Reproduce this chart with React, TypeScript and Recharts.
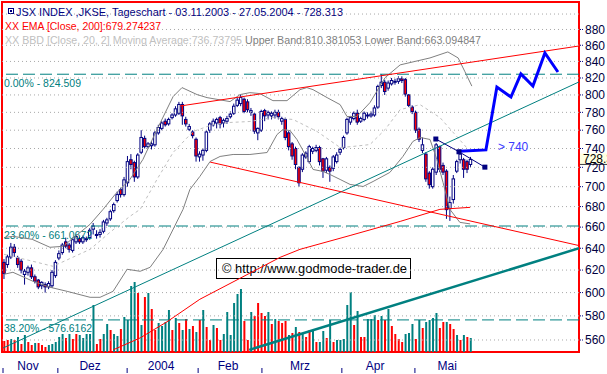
import React from 'react';
import {
  ComposedChart, XAxis, YAxis, Bar, Line, ReferenceLine, ReferenceArea, ReferenceDot, Cell, Customized,
} from 'recharts';

const FONT = '"Liberation Sans", Arial, sans-serif';

// ---- daily candles (03.11.2003 - 27.05.2004), trading-day index k ----
const opens = [
  627, 625, 632, 641, 631, 628, 616, 618, 622, 614,
  611, 606, 607, 605, 606, 615, 631, 636, 646, 643,
  638, 646, 649, 646, 648, 650, 658, 652, 653, 656,
  664, 668, 676, 686, 697, 692, 704, 728, 725, 710,
  736, 751, 742, 743, 744, 757, 762, 770, 767, 774,
  777, 779, 789, 772, 761, 758, 750, 731, 733, 738,
  760, 766, 768, 774, 768, 770, 775, 779, 788, 790,
  795, 792, 780, 778, 757, 760, 782, 777, 776, 777,
  780, 770, 772, 757, 745, 740, 720, 718, 731, 726,
  737, 738, 741, 729, 717, 720, 719, 726, 736, 741,
  757, 769, 773, 779, 770, 772, 776, 776, 777, 786,
  811, 815, 808, 813, 815, 816, 819, 818, 800, 786,
  780, 761, 738, 734, 714, 700, 715, 742, 722, 716,
  678, 687, 716, 728, 728, 726, 723,
];
const highs = [
  630, 634, 645, 644, 633, 630, 621, 624, 625, 616,
  612, 610, 609, 610, 620, 629, 638, 645, 650, 645,
  650, 653, 651, 652, 651, 659, 664, 657, 658, 667,
  669, 677, 684, 695, 699, 710, 732, 734, 727, 735,
  760, 754, 747, 748, 759, 766, 770, 773, 774, 779,
  787, 792, 792, 775, 767, 760, 752, 737, 740, 760,
  769, 773, 774, 776, 773, 776, 781, 790, 797, 800,
  797, 795, 785, 779, 763, 783, 784, 782, 781, 783,
  783, 775, 774, 759, 747, 742, 721, 735, 737, 744,
  742, 744, 743, 730, 731, 722, 733, 736, 741, 754,
  774, 776, 781, 783, 775, 781, 780, 781, 788, 812,
  824.5, 818, 817, 820, 819, 822, 822, 820, 801, 788,
  782, 763, 752, 736, 716, 720, 746, 743, 725, 718,
  690, 712, 728, 737, 730, 728, 731,
];
const lows = [
  612, 622, 630, 632, 622, 617, 607, 615, 612, 608,
  603, 603, 600, 603, 604, 613, 629, 634, 640, 636,
  636, 644, 644, 644, 646, 648, 653, 649, 650, 654,
  661, 666, 674, 684, 689, 690, 700, 718, 705, 708,
  734, 740, 740, 739, 742, 755, 760, 764, 765, 772,
  775, 777, 766, 764, 759, 751, 726, 726, 727, 736,
  757, 764, 762, 762, 763, 767, 773, 777, 786, 787,
  779, 780, 776, 756, 749, 758, 770, 772, 772, 773,
  772, 766, 749, 738, 728, 718, 700, 715, 729, 724,
  734, 736, 722, 709, 714, 705, 716, 724, 733, 739,
  755, 766, 771, 766, 768, 770, 773, 774, 775, 784,
  808, 800, 805, 811, 812, 813, 814, 798, 786, 778,
  757, 747, 735, 705, 698, 698, 712, 715, 712, 668,
  666, 683, 714, 724, 709, 714, 720,
];
const closes = [
  617, 632, 641, 636, 625, 620, 619, 622, 614, 610,
  605, 609, 605, 608, 618, 627, 635, 643, 642, 639,
  648, 651, 646, 650, 649, 657, 661, 653, 655, 665,
  667, 675, 682, 692, 692, 707, 726, 723, 710, 733,
  752, 742, 745, 745, 757, 763, 768, 766, 772, 777,
  784, 789, 776, 767, 764, 754, 732, 734, 738, 758,
  767, 770, 772, 767, 771, 773, 778, 787, 794, 797,
  781, 783, 782, 759, 762, 781, 776, 780, 779, 780,
  775, 773, 752, 742, 732, 723, 704, 733, 735, 742,
  740, 741, 726, 716, 729, 716, 731, 733, 739, 752,
  772, 774, 779, 769, 773, 779, 777, 778, 785, 810,
  815, 804, 814, 817, 816, 819, 817, 801, 788, 781,
  760, 750, 744, 708, 702, 718, 744, 718, 715, 677,
  684, 708, 726, 734, 718, 718, 728.313,
];
const volumes = [
  11, 12, 13, 12, 15, 8, 17, 10, 7, 9,
  9, 7, 5, 7, 8, 10, 15, 18, 14, 18,
  13, 18, 17, 14, 18, 18, 47, 8, 13, 18,
  28, 22, 18, 16, 23, 35, 32, 66, 70, 59,
  27, 55, 59, 43, 22, 29, 26, 30, 42, 22,
  34, 29, 22, 33, 23, 26, 20, 32, 42, 25,
  12, 27, 24, 12, 18, 40, 17, 49, 58, 63,
  31, 12, 40, 36, 49, 39, 36, 40, 28, 33,
  31, 29, 31, 17, 19, 25, 20, 19, 15, 22,
  21, 10, 10, 21, 14, 32, 10, 12, 12, 13,
  47, 60, 27, 41, 15, 15, 33, 33, 37, 32,
  36, 32, 43, 26, 18, 13, 10, 18, 19, 28,
  13, 32, 24, 30, 32, 34, 39, 24, 30, 30,
  28, 23, 17, 12, 17, 15, 14,
];
const volDir = (
  'ddudududdu' + 'ddduuuuudu' + 'dduuuuuddu' + 'uduuduuuud' + 'ududduuuud' +
  'ududududud' + 'dudduuuuuu' + 'dduddddudu' + 'dddudududd' + 'uduududuuu' +
  'uududduuud' + 'ududddduuu' + 'duduuuuddu' + 'ddududu'
).split('');

// ---- indicators ----
const emaK = [31.8, 39.7, 47.5, 57.1, 68.8, 80.5, 86.3, 100.9, 115.5, 127.1, 135.9];
const emaV = [552, 561.7, 575, 594.2, 612.6, 631.6, 639, 652, 665.5, 677.3, 679.27];

const bbUpperK = [0, 2.6, 8.2, 13.4, 17.2, 25.1, 28.9, 32.4, 36.7, 40.5, 44.6, 49.3, 51.9, 56.3, 59.2, 65.9, 68.8, 71.7, 74.6, 78.4, 82.5, 86.3, 88.3, 90.1, 94.2, 98.0, 100.0, 102.9, 106.7, 111.1, 115.5, 124.2, 129.4, 132.4, 134.4, 136.4];
const bbUpperV = [650, 651.2, 648.4, 640.9, 641.8, 662.7, 677.3, 692.2, 707.4, 728.3, 760.7, 798.1, 808.6, 800.4, 796.9, 792.3, 800.4, 802.7, 801.6, 793.4, 793.4, 806.2, 808.6, 806.2, 796.9, 788.8, 775.3, 775.3, 791.1, 820.4, 835.8, 844.3, 851.7, 844.3, 827.4, 810.38];

const bbLowerK = [0, 2.6, 8.5, 13.4, 18.4, 25.1, 28.0, 31.8, 35.9, 39.7, 42.6, 46.4, 52.2, 54.2, 57.1, 60.1, 63.0, 66.8, 71.7, 76.7, 79.6, 81.3, 83.4, 85.4, 88.3, 90.1, 93.0, 95.0, 98.0, 100.9, 104.7, 107.6, 112.5, 116.3, 119.2, 121.3, 124.2, 126.2, 128.0, 130.0, 132.9, 135.9];
const bbLowerV = [616.2, 618.0, 609.9, 604.7, 601.1, 595.9, 595.9, 601.1, 620.7, 618.9, 622.5, 639.0, 677.3, 697.2, 710.5, 726.2, 731.5, 733.6, 733.6, 735.7, 755.2, 760.7, 759.6, 749.8, 730.4, 717.8, 715.7, 712.6, 707.4, 702.3, 700.2, 705.3, 714.7, 731.5, 747.6, 752.0, 749.8, 728.3, 704.3, 677.3, 664.6, 663.09];

const bbMidK = [0, 8.5, 14.3, 25.1, 30.9, 36.7, 39.7, 44.6, 49.3, 55.1, 60.9, 65.9, 71.7, 78.4, 84.3, 91.3, 98.0, 101.7, 106.7, 111.1, 115.5, 121.3, 127.1, 131.5, 135.9];
const bbMidV = [634.4, 627.9, 623.4, 639.0, 655.0, 670.4, 677.3, 707.4, 735.7, 758.5, 766.3, 768.6, 769.7, 774.1, 771.9, 758.5, 741.1, 742.2, 744.3, 760.7, 783.1, 788.8, 774.1, 755.2, 736.74];

// ---- trend lines & projection ----
const redUpperK = [51.3, 167.64];
const redUpperV = [787.2, 859.1];
const redLowerK = [60.1, 167.64];
const redLowerV = [725.5, 642.5];
const tealThinK = [-0.29, 167.64];
const tealThinV = [553.5, 815.3];
const tealThickK = [71.5, 167.64];
const tealThickV = [552, 640];
const projK = [132.65, 140.5, 143.7, 147.8, 150.7, 154.2, 157.7, 161.5];
const projV = [737, 738.5, 809.3, 797.6, 824.8, 810.5, 850.4, 827.2];
const markerK = [125.9, 132.65, 140.2];
const markerV = [750.3, 736.5, 720.2];

const fibLevels = [824.509, 661.0672, 576.6162];
const fibLabels = ['0.00% - 824.509', '23.60% - 661.0672', '38.20% - 576.6162'];
const yTicks = [560, 580, 600, 620, 640, 660, 680, 700, 720, 740, 760, 780, 800, 820, 840, 860, 880];
const gridLevels = [560, 580, 600, 620, 640, 660, 680, 700, 720, 740, 760, 780, 800, 820, 840, 860, 880, 900];
const monthStarts = [-0.29, 15.7, 35.9, 56.6, 75.2, 98.5, 119.8];
const monthLabelPos = [7, 25.1, 45.8, 65.3, 86.3, 108.2, 129.2];
const monthLabels = ['Nov', 'Dez', '2004', 'Feb', 'Mrz', 'Apr', 'Mai'];
const targetLabel = '> 740';
const targetK = 144;
const targetV = 740;
const lastClose = 728.313;

const X_DOMAIN: [number, number] = [-0.583, 167.64];
const Y_DOMAIN: [number, number] = [550.3, 915.9];

const rows = opens.map((o, k) => ({
  k, o, h: highs[k], l: lows[k], c: closes[k], vol: volumes[k], up: volDir[k] === 'u',
}));
const pair = (ks: number[], vs: number[]) => ks.map((k, i) => ({ k, v: vs[i] }));

const NAVY = '#000080';
const TEAL = '#008080';

const Candle = (props: any) => {
  const { x, y, width, height, payload } = props;
  if (!payload || !isFinite(y)) return null;
  const { o, h, l, c } = payload;
  const cx = x + width / 2;
  const lh = Math.log(h);
  const ll = Math.log(l);
  const span = lh - ll || 1;
  const toY = (v: number) => y + ((lh - Math.log(v)) / span) * height;
  const top = toY(Math.max(o, c));
  const bot = toY(Math.min(o, c));
  const down = c < o;
  return (
    <g>
      <line x1={cx} x2={cx} y1={y} y2={y + height} stroke={NAVY} strokeWidth={1} />
      <rect x={cx - 1.25} y={top} width={2.5} height={Math.max(bot - top, 1)}
        fill={down ? '#ff0000' : '#ffffff'} stroke={NAVY} strokeWidth={1} />
    </g>
  );
};

const fibWidths = [77, 88, 88];
const FibLabel = (props: any) => {
  const { viewBox, idx } = props;
  if (!viewBox) return null;
  return (
    <text x={viewBox.x + 2} y={viewBox.y + 12.5} fill={TEAL} fontSize={11} fontFamily={FONT}
      textLength={fibWidths[idx]} lengthAdjust="spacingAndGlyphs">{fibLabels[idx]}</text>
  );
};

const EmptyTick = () => <g />;
const MonthTick = (props: any) => {
  const { x, payload } = props;
  const i = monthLabelPos.indexOf(payload.value);
  return (
    <text x={x} y={370} textAnchor="middle" fontSize={12} fill={NAVY} fontFamily={FONT}>
      {monthLabels[i]}
    </text>
  );
};

const SquareDot = (props: any) => {
  const { cx, cy } = props;
  if (cx == null || cy == null) return null;
  return <rect x={cx - 2.5} y={cy - 2.5} width={5} height={5} fill={NAVY} />;
};

const TargetText = (props: any) => {
  const { cx, cy } = props;
  return (
    <text x={cx} y={cy + 2} fill="#3c3cff" fontSize={12} fontFamily={FONT}>{targetLabel}</text>
  );
};

const PriceTag = (props: any) => {
  const { cx, cy } = props;
  return (
    <g>
      <rect x={cx + 1} y={cy - 6} width={30} height={11} fill="#ffffe1" />
      <line x1={cx + 1} x2={cx + 31} y1={cy + 5} y2={cy + 5} stroke="#404040" strokeWidth={1} />
      <text x={cx + 4} y={cy + 4} fontSize={12} fill="#000000" fontFamily={FONT}>{String(lastClose)}</text>
    </g>
  );
};

const Overlay = () => (
  <g fontFamily={FONT}>
    <rect x={8.5} y={8.5} width={5} height={5} fill="none" stroke={NAVY} />
    <rect x={10} y={10} width={2} height={2} fill={NAVY} />
    <text x={16} y={16} fontSize={11} fill={NAVY} textLength={327} lengthAdjust="spacingAndGlyphs">
      JSX INDEX ,JKSE, Tageschart - 03.11.2003 - 27.05.2004 - 728.313
    </text>
    <text x={5} y={30} fontSize={11} fill="#ff0000" textLength={156} lengthAdjust="spacingAndGlyphs">
      XX EMA [Close, 200]:679.274237
    </text>
    <text x={5} y={44} fontSize={11} fill="#c0c0c0" textLength={237} lengthAdjust="spacingAndGlyphs">
      XX BBD [Close, 20, 2] Moving Average:736.73795
    </text>
    <text x={245} y={44} fontSize={11} fill="#808080" textLength={236} lengthAdjust="spacingAndGlyphs">
      Upper Band:810.381053 Lower Band:663.094847
    </text>
    <rect x={216.5} y={258.5} width={194} height={20} fill="#ffffff" stroke="#000000" strokeWidth={1} />
    <text x={222} y={273} fontSize={13} fill="#000000" textLength={185} lengthAdjust="spacingAndGlyphs">
      © http://www.godmode-trader.de
    </text>
  </g>
);

export default function App() {
  return (
    <div style={{ position: 'absolute', left: 0, top: 0, width: 607, height: 374, background: '#ffffff', fontFamily: FONT }}>
      <ComposedChart width={607} height={374} data={rows} margin={{ top: 2, right: 0, bottom: 0, left: 2 }}>
        <XAxis xAxisId="main" dataKey="k" type="number" domain={X_DOMAIN} allowDataOverflow
          ticks={monthStarts} interval={0} tick={<EmptyTick />} tickLine={{ stroke: NAVY }} tickSize={5}
          axisLine={false} height={6} />
        <XAxis xAxisId="lbl" dataKey="k" type="number" domain={X_DOMAIN} allowDataOverflow
          ticks={monthLabelPos} interval={0} tick={<MonthTick />} tickLine={false} axisLine={false} height={16} />
        <YAxis yAxisId="p" orientation="right" scale="log" domain={Y_DOMAIN} allowDataOverflow
          ticks={yTicks} interval={0} width={28} axisLine={false}
          tickLine={{ stroke: NAVY, strokeDasharray: '1 1' }} tickSize={4} tickMargin={2}
          tick={{ fontSize: 12, fill: '#000040', fontFamily: FONT }} />
        <YAxis yAxisId="vol" hide domain={[0, 350]} allowDataOverflow />

        {gridLevels.map((lv) => (
          <ReferenceLine key={'g' + lv} xAxisId="main" yAxisId="p" y={lv} stroke="#a8a8a8" strokeDasharray="1 3" />
        ))}
        {fibLevels.map((lv, i) => (
          <ReferenceLine key={'f' + lv} xAxisId="main" yAxisId="p" y={lv} stroke={TEAL} strokeDasharray="12 5"
            label={<FibLabel idx={i} />} />
        ))}

        <Bar xAxisId="lbl" yAxisId="vol" dataKey="vol" barSize={2} isAnimationActive={false}>
          {rows.map((r) => (
            <Cell key={'v' + r.k} fill={r.up ? TEAL : '#ff0000'} />
          ))}
        </Bar>

        <Line xAxisId="main" yAxisId="p" data={pair(bbUpperK, bbUpperV)} dataKey="v" stroke="#808080" strokeWidth={1} dot={false} activeDot={false} isAnimationActive={false} />
        <Line xAxisId="main" yAxisId="p" data={pair(bbLowerK, bbLowerV)} dataKey="v" stroke="#808080" strokeWidth={1} dot={false} activeDot={false} isAnimationActive={false} />
        <Line xAxisId="main" yAxisId="p" data={pair(bbMidK, bbMidV)} dataKey="v" stroke="#c0c0c0" strokeDasharray="3 3" strokeWidth={1} dot={false} activeDot={false} isAnimationActive={false} />
        <Line xAxisId="main" yAxisId="p" data={pair(emaK, emaV)} dataKey="v" stroke="#ff0000" strokeWidth={1} dot={false} activeDot={false} isAnimationActive={false} />

        <Line xAxisId="main" yAxisId="p" data={pair(tealThinK, tealThinV)} dataKey="v" stroke={TEAL} strokeWidth={1} dot={false} activeDot={false} isAnimationActive={false} />
        <Line xAxisId="main" yAxisId="p" data={pair(tealThickK, tealThickV)} dataKey="v" stroke={TEAL} strokeWidth={2.5} dot={false} activeDot={false} isAnimationActive={false} />
        <Line xAxisId="main" yAxisId="p" data={pair(redUpperK, redUpperV)} dataKey="v" stroke="#ff0000" strokeWidth={1} dot={false} activeDot={false} isAnimationActive={false} />
        <Line xAxisId="main" yAxisId="p" data={pair(redLowerK, redLowerV)} dataKey="v" stroke="#ff0000" strokeWidth={1} dot={false} activeDot={false} isAnimationActive={false} />

        <Bar xAxisId="main" yAxisId="p" dataKey={(d: any) => [d.l, d.h]} barSize={4}
          shape={(p: any) => <Candle {...p} />} isAnimationActive={false} />

        <Line xAxisId="main" yAxisId="p" data={pair(markerK, markerV)} dataKey="v" stroke={NAVY} strokeWidth={1} dot={<SquareDot />} activeDot={false} isAnimationActive={false} />
        <Line xAxisId="main" yAxisId="p" data={pair(projK, projV)} dataKey="v" stroke="#0000ff" strokeWidth={3} strokeLinejoin="miter" dot={false} activeDot={false} isAnimationActive={false} />

        <ReferenceDot xAxisId="main" yAxisId="p" x={targetK} y={targetV} r={0} shape={(p: any) => <TargetText {...p} />} />
        <ReferenceDot xAxisId="main" yAxisId="p" x={X_DOMAIN[1]} y={lastClose} r={0} ifOverflow="visible" shape={(p: any) => <PriceTag {...p} />} />

        <ReferenceArea xAxisId="main" yAxisId="p" x1={X_DOMAIN[0]} x2={X_DOMAIN[1]} y1={Y_DOMAIN[0]} y2={Y_DOMAIN[1]}
          fill="none" fillOpacity={0} stroke="#ff0000" strokeWidth={2} ifOverflow="visible" />

        <Customized component={Overlay} />
      </ComposedChart>
    </div>
  );
}
